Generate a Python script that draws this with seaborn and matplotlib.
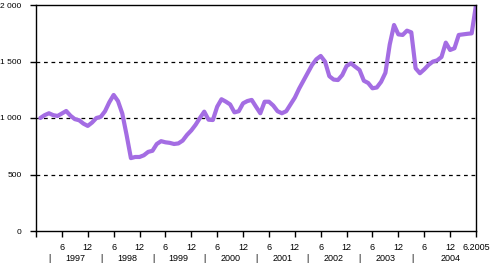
import numpy as np
import pandas as pd
import matplotlib
matplotlib.use("Agg")
import matplotlib.pyplot as plt
import matplotlib.transforms as mtransforms
import seaborn as sns

# Monthly index values, Jan 1997 .. Jun 2005
values = [
    1000, 1025, 1042, 1025, 1018, 1040, 1062, 1020, 990, 980, 950, 930,      # 1997
    960, 1000, 1010, 1060, 1140, 1204, 1150, 1040, 850, 645, 655, 655,      # 1998
    670, 700, 710, 770, 795, 785, 780, 770, 775, 800, 850, 890,             # 1999
    940, 1000, 1056, 985, 982, 1100, 1166, 1145, 1120, 1050, 1060, 1130,    # 2000
    1150, 1160, 1100, 1042, 1144, 1144, 1110, 1060, 1042, 1060, 1120, 1180, # 2001
    1260, 1330, 1400, 1470, 1520, 1549, 1499, 1370, 1340, 1336, 1380, 1460, # 2002
    1484, 1454, 1425, 1330, 1310, 1263, 1270, 1320, 1400, 1650, 1823, 1740, # 2003
    1735, 1773, 1758, 1440, 1396, 1430, 1470, 1499, 1510, 1540, 1667, 1602, # 2004
    1617, 1735, 1740, 1745, 1749, 2000,                                     # 2005
]
months = list(range(1, len(values) + 1))

y_ticks = [0, 500, 1000, 1500, 2000]
y_labels = ["0", "500", "1 000", "1 500", "2 000"]
x_ticks = list(range(0, 103, 6))
x_labels = [""] + ["6", "12"] * 8 + ["6.2005"]
years = ["1997", "1998", "1999", "2000", "2001", "2002", "2003", "2004"]

df = pd.DataFrame({"month": months, "value": values})

plt.rcParams["font.family"] = ["Liberation Sans", "DejaVu Sans"]
fig = plt.figure(figsize=(4.92, 2.65), dpi=100)
ax = fig.add_axes([36 / 492, 34 / 265, 440 / 492, 226 / 265])

sns.lineplot(data=df, x="month", y="value", ax=ax, color="#a46de3",
             linewidth=3.0, solid_capstyle="round", solid_joinstyle="round")

ax.set_xlim(0, 102)
ax.set_ylim(0, 2000)
for yv in [500, 1000, 1500]:
    ax.axhline(yv, color="black", linewidth=0.9, linestyle=(0, (3, 3)), zorder=0)

for s in ax.spines.values():
    s.set_color("black")
    s.set_linewidth(1.0)

ax.set_yticks(y_ticks)
ax.set_yticklabels(y_labels, fontsize=6)
ax.set_xticks(x_ticks)
ax.set_xticklabels(x_labels, fontsize=6.5)
ax.tick_params(axis="y", length=4.3, width=1.0, pad=6.2, color="black")
ax.tick_params(axis="x", length=4.3, width=1.0, pad=4, color="black")
ax.set_xlabel("")
ax.set_ylabel("")

trans = mtransforms.blended_transform_factory(ax.transData, ax.transAxes)
sep_pos = [3.2, 15.2, 27.1, 39.0, 51.2, 63.0, 74.9, 87.2]
year_pos = [9.2, 21.1, 33.0, 45.0, 57.1, 69.0, 81.0, 96.0]
for sp in sep_pos:
    ax.text(sp, -0.12, "|", transform=trans, ha="center", va="center", fontsize=6.5)
for yp, yl in zip(year_pos, years):
    ax.text(yp, -0.12, yl, transform=trans, ha="center", va="center", fontsize=6.5)

fig.savefig("out.png", dpi=100)
